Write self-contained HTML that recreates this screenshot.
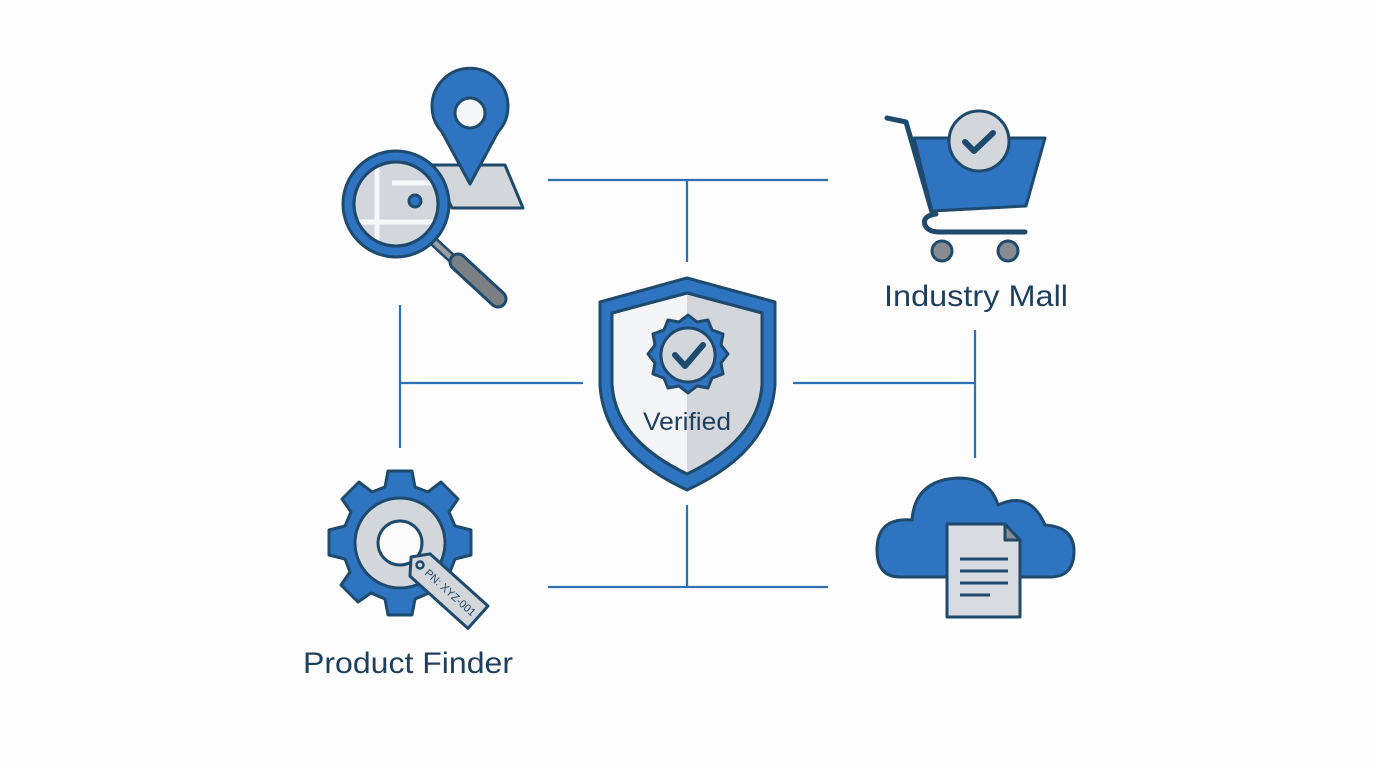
<!DOCTYPE html>
<html><head><meta charset="utf-8"><style>html,body{margin:0;padding:0;background:#fdfdfd}svg{display:block}</style></head><body>
<svg width="1376" height="768" viewBox="0 0 1376 768" xmlns="http://www.w3.org/2000/svg">
<defs><clipPath id="lens"><circle cx="396" cy="204" r="41"/></clipPath></defs>
<rect width="1376" height="768" fill="#fdfdfd"/>
<g stroke="#2f70b5" stroke-width="2.2" fill="none">
<path d="M548 180H828M687 180V262"/>
<path d="M548 587H828M687 505V587"/>
<path d="M400 305V448M400 383H583"/>
<path d="M975 330V458M793 383H975"/>
</g>
<g stroke="#1e4a6e" stroke-width="3" stroke-linejoin="round">
<!-- map + pin -->
<polygon points="432,165 505,165 523,208 452,208" fill="#d3d7dc"/>
<path d="M470 184 L442 132 A38 38 0 1 1 498 132 Z" fill="#2f74c0"/>
<circle cx="470" cy="113" r="15" fill="#f4f6f8"/>
<!-- magnifier -->
<line x1="432" y1="240" x2="458" y2="264" stroke="#1e4a6e" stroke-width="10" stroke-linecap="round"/>
<line x1="432" y1="240" x2="458" y2="264" stroke="#9a9ea3" stroke-width="5" stroke-linecap="round"/>
<line x1="458" y1="262" x2="498" y2="299" stroke="#1e4a6e" stroke-width="19" stroke-linecap="round"/>
<line x1="458" y1="262" x2="498" y2="299" stroke="#7b8085" stroke-width="13" stroke-linecap="round"/>
<circle cx="396" cy="204" r="53" fill="#2f74c0"/>
<circle cx="396" cy="204" r="42" fill="#d3d7dc"/>
<g clip-path="url(#lens)" stroke="#f6f7f8" stroke-width="5" stroke-linejoin="miter"><path d="M377 150V260M340 222H450M392 183H440"/></g>
<circle cx="396" cy="204" r="42" fill="none"/>
<circle cx="415" cy="201" r="6" fill="#2f74c0"/>
<!-- shield -->
<path d="M687 278 L775 302 L775 385 Q770 452 687 490 Q604 452 600 385 L600 302 Z" fill="#2f74c0"/>
<path d="M687 293 L762 313 L762 385 Q758 440 687 474 Q616 440 612 385 L612 313 Z" fill="#f4f5f7"/>
<path d="M687 293 L762 313 L762 385 Q758 440 687 474 Z" fill="#d3d6da" stroke="none"/>
<path d="M687 293 L762 313 L762 385 Q758 440 687 474 Q616 440 612 385 L612 313 Z" fill="none"/>
<path fill="#2f74c0" d="M688 315 l9 7 11 -2 4 10 11 4 -2 11 7 9 -7 9 2 11 -11 4 -4 10 -11 -2 -9 7 -9 -7 -11 2 -4 -10 -11 -4 2 -11 -7 -9 7 -9 -2 -11 11 -4 4 -10 11 2 Z"/>
<circle cx="688" cy="355" r="27" fill="#d3d7dc"/>
<path d="M675 355 L685 366 L703 345" fill="none" stroke="#1e4a6e" stroke-width="6" stroke-linecap="round"/>
<!-- gear -->
<g transform="translate(400,543)">
<path fill="#2f74c0" d="M-12 -72 H12 L15 -56 L28 -51 L41 -61 L58 -44 L49 -31 L55 -17 L71 -13 V12 L55 16 L50 29 L59 42 L42 59 L29 50 L15 56 L12 72 H-12 L-15 56 L-29 50 L-42 59 L-59 42 L-50 29 L-55 16 L-71 12 V-13 L-55 -17 L-49 -31 L-58 -44 L-41 -61 L-28 -51 L-15 -56 Z"/>
<circle r="45" fill="#d3d7dc"/>
<circle r="22" fill="#fbfbfb"/>
</g>
<g transform="translate(420,565) rotate(42)">
<path d="M0 -15 H78 V15 H0 L-12 0 Z" fill="#d3d7dc"/>
<circle cx="0" cy="0" r="3.5" fill="none" stroke-width="2.5"/>
<text x="9" y="4" font-family="Liberation Sans, sans-serif" font-size="11" fill="#1e3f5e" stroke="none" textLength="64" lengthAdjust="spacingAndGlyphs">PN: XYZ-001</text>
</g>
<!-- cart -->
<path d="M887 118 L906 122 L932 212" fill="none" stroke-width="5" stroke-linecap="round"/>
<polygon points="914,138 1045,138 1026,206 932,211" fill="#2f74c0"/>
<path d="M936 214 Q922 216 925 225 Q928 232 940 232 H1025" fill="none" stroke-width="5" stroke-linecap="round"/>
<circle cx="942" cy="251" r="10" fill="#888c90"/>
<circle cx="1008" cy="251" r="10" fill="#888c90"/>
<circle cx="979" cy="141" r="30" fill="#d3d7dc"/>
<path d="M965 142 L974 151 L993 133" fill="none" stroke-width="6" stroke-linecap="round"/>
<!-- cloud -->
<path fill="#2f74c0" d="M900 577 Q877 577 877 550 Q877 517 912 520 Q915 480 958 478 Q990 478 998 505 Q1030 490 1045 525 Q1075 527 1074 553 Q1073 577 1050 577 Z"/>
<path d="M947 524 H1005 L1020 540 V617 H947 Z" fill="#d8dbdf"/>
<path d="M1005 524 V540 H1020 Z" fill="#8a8e92"/>
<path d="M960 559H1008M960 571H1008M960 583H1008M960 595H990" stroke-width="3" fill="none"/>
</g>
<g font-family="Liberation Sans, sans-serif" fill="#1e3f5e">
<text x="687" y="430" font-size="25" text-anchor="middle" textLength="88" lengthAdjust="spacingAndGlyphs">Verified</text>
<text x="976" y="306" font-size="30" text-anchor="middle" textLength="184" lengthAdjust="spacingAndGlyphs">Industry Mall</text>
<text x="408" y="673" font-size="30" text-anchor="middle" textLength="210" lengthAdjust="spacingAndGlyphs">Product Finder</text>
</g>
</svg>
</body></html>
